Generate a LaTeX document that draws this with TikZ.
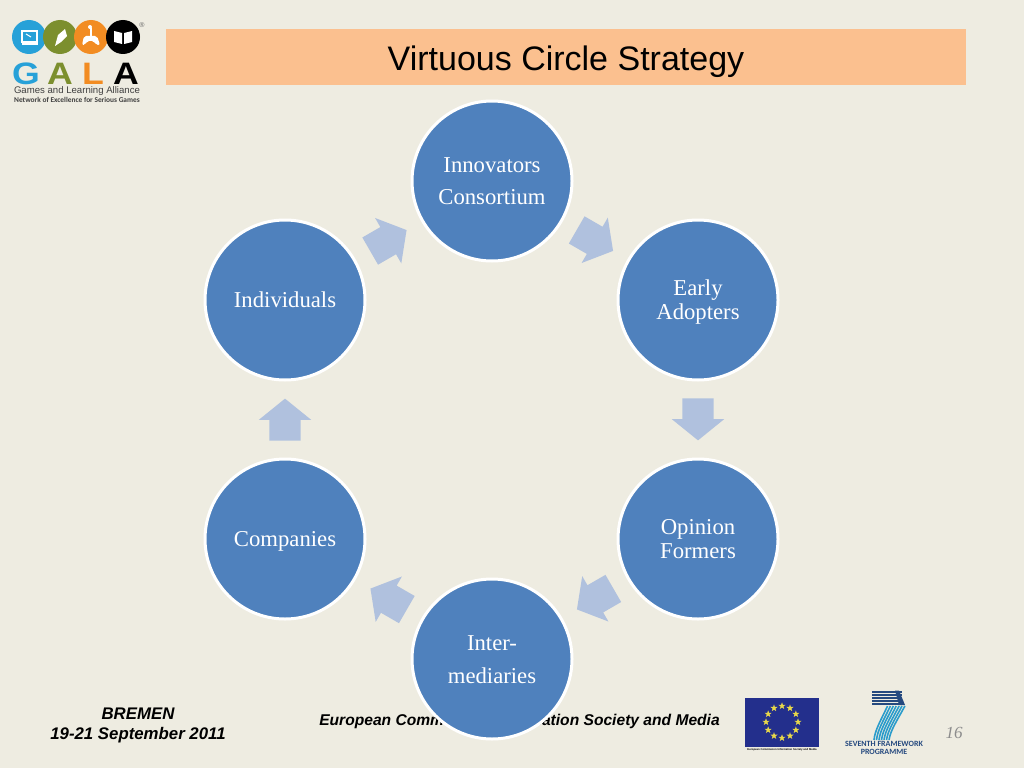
\documentclass[tikz,border=0pt]{standalone}
\usepackage{fontspec}
\setmainfont{Liberation Sans}
\newfontfamily\serfont{Liberation Serif}
\newfontfamily\carfont{Carlito}
\newfontfamily\galafont[FakeStretch=1.15]{Liberation Sans}
\usetikzlibrary{calc,shapes.arrows,shapes.geometric}

\definecolor{slidebg}{HTML}{EEECE1}
\definecolor{bandcol}{HTML}{FBC08F}
\definecolor{circcol}{HTML}{4F81BD}
\definecolor{arrowcol}{HTML}{B0C1DE}
\definecolor{galablue}{HTML}{27A1D8}
\definecolor{galagreen}{HTML}{7C8F2E}
\definecolor{galaorange}{HTML}{F28C22}
\definecolor{flagblue}{HTML}{232F8C}
\definecolor{flagstar}{HTML}{E8D84A}
\definecolor{fpnavy}{HTML}{25497F}
\definecolor{fpblue}{HTML}{2A9CCB}

\newcommand{\topline}{\rule{0pt}{23pt}}

\tikzset{
	circ/.style={circle, draw=white, line width=3pt, fill=circcol, minimum size=160pt, inner sep=0pt, align=center, text=white, font=\serfont\fontsize{22.7}{24}\selectfont, execute at end node=\strut},
	flowarrow/.style={single arrow, fill=arrowcol, minimum height=42pt, text width=0pt, text height=31pt, text depth=0pt, inner sep=0pt, outer sep=0pt, single arrow head extend=10.5pt, single arrow tip angle=102},
	foot/.style={font=\bfseries\itshape\fontsize{16.8}{20}\selectfont},
	galaletter/.style={font=\galafont\bfseries\fontsize{31}{31}\selectfont, inner sep=0pt, anchor=base},
	galadot/.style={circle, minimum size=34pt, inner sep=0pt},
	euStar/.style={star, star points=5, star point ratio=2.5, fill=flagstar, minimum size=7.5pt, inner sep=0pt}
}

\begin{document}
\begin{tikzpicture}[x=1pt, y=-1pt]

\useasboundingbox[fill=slidebg] (0,0) rectangle (1024,768);

% title
\fill[bandcol] (166,29) rectangle (966,85);
\node[font=\fontsize{34}{40}\selectfont] (title) at (566,62) {Virtuous Circle Strategy};

% footer
\node[foot] (place) at (138,714) {BREMEN};
\node[foot] (date) at (138,735) {19-21 September 2011};
\node[font=\bfseries\itshape\fontsize{15.6}{18}\selectfont] (ec) at (519.5,721) {European Commission Information Society and Media};
\node[font=\serfont\itshape\fontsize{17}{20}\selectfont, text=black!45] (pagenum) at (954,733) {16};

% circles
\node[circ] (inno) at (492,181) {\topline Innovators\\[8pt]Consortium};
\node[circ] (early) at (698,300) {\topline Early\\Adopters};
\node[circ] (opinion) at (698,539) {\topline Opinion\\Formers};
\node[circ] (inter) at (492,659) {\topline Inter-\\[9pt]mediaries};
\node[circ] (comp) at (285,539) {\topline Companies};
\node[circ] (indiv) at (285,300) {\topline Individuals};

% block arrows half way between the circles
\foreach \a/\b/\ang in {inno/early/-30, early/opinion/-90, opinion/inter/-150, inter/comp/150, comp/indiv/90, indiv/inno/30}
	{\node[flowarrow, rotate=\ang] (\a-\b) at ($(\a)!0.5!(\b)+(\ang:-6.5pt)$) {};}

% GALA logo
\foreach \x/\col/\nm in {29/galablue/dotA, 60/galagreen/dotB, 91/galaorange/dotC, 123/black/dotD}
	{\node[galadot, fill=\col] (\nm) at (\x,37) {};}
\node[font=\fontsize{7}{8}\selectfont, text=black!60, inner sep=0pt] (regmark) at (142,25) {®};
\node[galaletter, text=galablue] (letG) at (26,84) {G};
\node[galaletter, text=galagreen] (letA) at (60,84) {A};
\node[galaletter, text=galaorange] (letL) at (93,84) {L};
\node[galaletter, text=black] (letB) at (126,84) {A};
\node[font=\fontsize{9.6}{10}\selectfont, text=black!75, inner sep=0pt] (galaname) at (77,91) {Games and Learning Alliance};
\node[font=\carfont\bfseries\fontsize{7.4}{8}\selectfont, text=black!75, inner sep=0pt] (galanet) at (77,99.5) {Network of Excellence for Serious Games};
% monitor
\draw[white, line width=1.2pt] (22,31) rectangle (37,42);
\fill[white] (22,43) rectangle (38,45);
\draw[white, line width=1pt] (26,34) -- (31,37);
% pen
\fill[white] (55,46) -- (58,35) -- (65,29) -- (67,36) -- (61,42) -- cycle;
% joystick
\fill[white] (90,27) circle (2pt);
\fill[white] (89.5,28) rectangle (91.5,36);
\fill[white, rounded corners=2pt] (82,45) -- (84,36) -- (97,36) -- (100,45) -- (96,45) -- (94,41) -- (87,41) -- (85,45) -- cycle;
% book
\fill[white] (114,31) -- (122,33) -- (122,44) -- (114,42) -- cycle;
\fill[white] (132,31) -- (124,33) -- (124,44) -- (132,42) -- cycle;

% flag
\fill[flagblue] (745,698) rectangle (819,747);
\foreach \ang in {0,30,...,330}
	{\node[euStar] (star\ang) at ($(782,722)+(\ang:16)$) {};}
\node[font=\bfseries\fontsize{2.7}{3}\selectfont, inner sep=0pt] (flagcap) at (782,749.5) {European Commission Information Society and Media};

% seventh framework logo
\foreach \y in {690.5,693.5,696.5,699.5,702.5}
	{\fill[fpnavy] (872,\y) rectangle (902,\y+2.2);}
\fill[fpnavy] (895,690.5) -- (899,690.5) -- (905,705) -- (899,705) -- cycle;
\foreach \i in {0,...,6}
	{\draw[fpblue, line width=1.6pt] ($(887.5,706)+(\i*2.9,0)$) .. controls ($(880,722)+(\i*2.7,0)$) and ($(875,730)+(\i*2.6,0)$) .. ($(874,740)+(\i*2.5,0)$);}
\node[font=\carfont\bfseries\fontsize{8}{8}\selectfont, text=fpnavy, align=center, inner sep=0pt] (fpname) at (884,748) {SEVENTH FRAMEWORK\\PROGRAMME};

\end{tikzpicture}
\end{document}
